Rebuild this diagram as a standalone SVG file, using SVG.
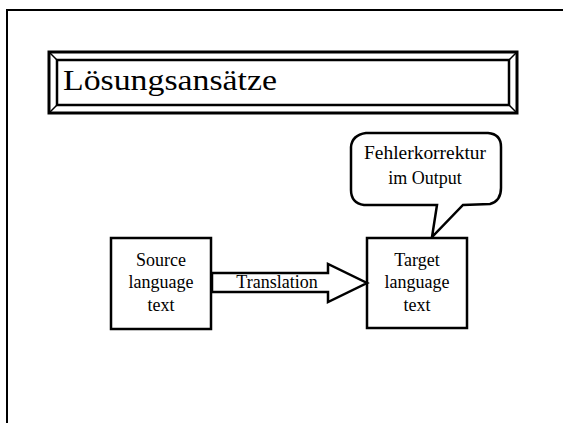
<svg xmlns="http://www.w3.org/2000/svg" width="563" height="423" viewBox="0 0 563 423">
<style>
text{font-family:"Liberation Serif","Times New Roman",serif;fill:#000}
.b{fill:#fff;stroke:#000;stroke-width:2.5}
.t{font-size:18px;text-anchor:middle}
</style>
<rect x="0" y="0" width="563" height="423" fill="#fff"/>
<path d="M7,423 V10 H563" fill="none" stroke="#000" stroke-width="2"/>
<g id="title">
<rect x="49" y="52" width="468" height="61" fill="#fff" stroke="#000" stroke-width="3"/>
<rect x="57" y="60" width="452" height="45" fill="#fff" stroke="#000" stroke-width="2.5"/>
<path d="M49,52 L57,60 M517,52 L509,60 M49,113 L57,105 M517,113 L509,105" stroke="#000" stroke-width="1.5"/>
<text x="63" y="90" font-size="30" textLength="214" lengthAdjust="spacingAndGlyphs">Lösungsansätze</text>
</g>
<g id="callout">
<path class="b" d="M366,133 L488,133 Q501,134 501,147 L501,188 Q501,201 490,204 L463,205 L432,237 L437,205 L364,205 Q351,203 351,190 L351,147 Q352,135 366,133 Z"/>
<text class="t" x="425" y="159" textLength="122" lengthAdjust="spacingAndGlyphs">Fehlerkorrektur</text>
<text class="t" x="425" y="184">im Output</text>
</g>
<g id="source">
<rect class="b" x="111" y="238" width="100" height="91"/>
<text class="t" x="161" y="266">Source</text>
<text class="t" x="161" y="288">language</text>
<text class="t" x="161" y="311">text</text>
</g>
<g id="target">
<rect class="b" x="367" y="238" width="100" height="90"/>
<text class="t" x="417" y="266">Target</text>
<text class="t" x="417" y="288">language</text>
<text class="t" x="417" y="311">text</text>
</g>
<g id="connectors">
<path class="b" d="M212,273 L328,273 L328,264 L367,283 L328,302 L328,292 L212,292 Z"/>
<text class="t" x="277" y="288" font-size="17">Translation</text>
</g>
</svg>
